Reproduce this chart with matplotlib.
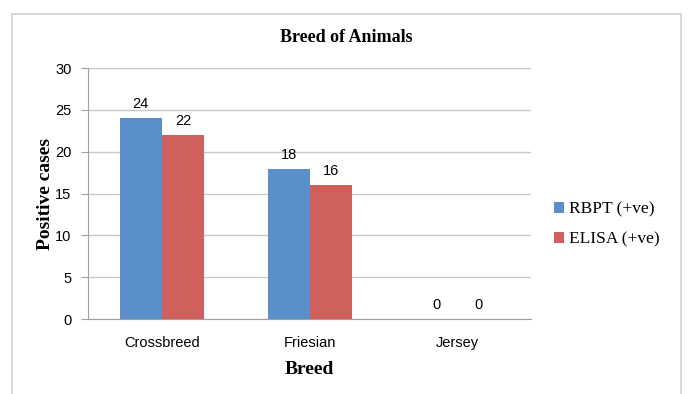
import matplotlib.pyplot as plt
import numpy as np
from matplotlib.patches import Rectangle
from matplotlib import font_manager

breeds = ["Crossbreed", "Friesian", "Jersey"]
rbpt_pos = [24, 18, 0]
elisa_pos = [22, 16, 0]
series_names = ["RBPT (+ve)", "ELISA (+ve)"]
series_colors = ["#5B8FC9", "#D0605B"]

# narrow sans for ticks if available
installed = {f.name for f in font_manager.fontManager.ttflist}
tick_font = "Liberation Sans Narrow" if "Liberation Sans Narrow" in installed else "Liberation Sans"
serif = "Liberation Serif"

fig = plt.figure(figsize=(6.88, 3.94), dpi=100)
ax = fig.add_axes([0.128, 0.190, 0.644, 0.637])

# chart-area border
fig.patches.append(Rectangle((12 / 688, -0.01), 669 / 688, 1 - 14 / 394 + 0.01,
                             transform=fig.transFigure, fill=False,
                             edgecolor="#d0d0d0", linewidth=1.2))

x = np.arange(len(breeds))
w = 0.285
bars1 = ax.bar(x - w / 2, rbpt_pos, w, color=series_colors[0], label=series_names[0], zorder=3)
bars2 = ax.bar(x + w / 2, elisa_pos, w, color=series_colors[1], label=series_names[1], zorder=3)

for bars in (bars1, bars2):
    for b in bars:
        h = b.get_height()
        ax.annotate(f"{h:g}", (b.get_x() + b.get_width() / 2, h),
                    xytext=(0, 5), textcoords="offset points",
                    ha="center", va="bottom", fontsize=10.5, family=tick_font)

ax.set_xlim(-0.5, 2.5)
ax.set_ylim(0, 30)
ax.set_yticks(range(0, 31, 5))
ax.yaxis.grid(True, color="#c8c8c8", linewidth=1, zorder=0)
ax.set_axisbelow(True)

for side in ("top", "right"):
    ax.spines[side].set_visible(False)
ax.spines["left"].set_color("#a0a0a0")
ax.spines["bottom"].set_color("#a0a0a0")

ax.set_xticks(x)
ax.set_xticklabels(breeds)
ax.tick_params(axis="x", length=0, pad=12)
ax.tick_params(axis="y", length=5, color="#a0a0a0", pad=7)
for lbl in ax.get_xticklabels() + ax.get_yticklabels():
    lbl.set_fontfamily(tick_font)
    lbl.set_fontsize(10.5)

ax.set_xlabel("Breed", family=serif, fontweight="bold", fontsize=14, labelpad=8)
ax.set_ylabel("Positive cases", family=serif, fontweight="bold", fontsize=14, labelpad=1)
fig.text(0.503, 0.905, "Breed of Animals", family=serif, fontweight="bold",
         fontsize=13, ha="center", va="center")

leg = fig.legend(loc="center left", bbox_to_anchor=(0.782, 0.43), frameon=False,
                 prop={"family": serif, "size": 12.5}, handlelength=0.6,
                 handleheight=0.6, handletextpad=0.3, labelspacing=0.8)

fig.savefig("out.png", dpi=100)
